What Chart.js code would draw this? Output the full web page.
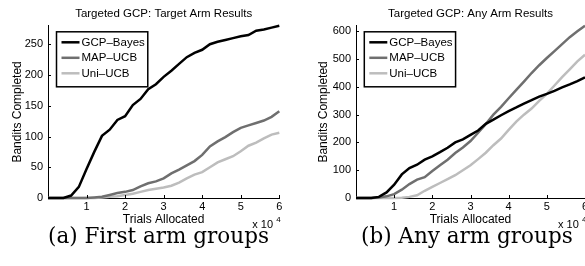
<!DOCTYPE html>
<html>
<head>
<meta charset="utf-8">
<title>Targeted GCP results</title>
<script src="https://cdn.jsdelivr.net/npm/chart.js@4.4.0/dist/chart.umd.min.js"></script>
<style>
    html, body { margin: 0; padding: 0; background: #fff; width: 585px; height: 266px; overflow: hidden; position: relative; }
    canvas { position: absolute; top: 0; }
    #chartA { left: 0; }
    #chartB { left: 290px; }
    .caption {
        position: absolute; top: 225px;
        font-family: "DejaVu Serif", serif; font-size: 21.5px; line-height: 21.5px;
        color: #000; white-space: nowrap;
    }
</style>
</head>
<body>
<canvas id="chartA" width="290" height="232"></canvas>
<canvas id="chartB" width="310" height="232"></canvas>
<div class="caption" style="left:48px">(a) First arm groups</div>
<div class="caption" style="left:361px">(b) Any arm groups</div>

<script>
// Trials allocated (x axis), same grid for both plots
const trials = [0, 2000, 4000, 6000, 8000, 10000, 12000, 14000, 16000, 18000, 20000,
    22000, 24000, 26000, 28000, 30000, 32000, 34000, 36000, 38000, 40000,
    42000, 44000, 46000, 48000, 50000, 52000, 54000, 56000, 58000, 60000];

const seriesNames = ['GCP–Bayes', 'MAP–UCB', 'Uni–UCB'];
const seriesColors = ['#000000', '#6f6f6f', '#bdbdbd'];

// (a) Target arm results
const targetGcp = [0, 0, 0, 4, 18, 47, 75, 101, 111, 127, 133, 151, 161, 177, 185, 197,
    207, 218, 229, 236, 241, 250, 254, 257, 260, 263, 265, 272, 274, 277, 280];
const targetMap = [0, 0, 0, 0, 0, 0, 1, 2, 5, 8, 10, 13, 19, 24, 27, 32,
    40, 46, 53, 60, 70, 84, 92, 99, 107, 114, 118, 122, 126, 132, 141];
const targetUni = [0, 0, 0, 0, 0, 0, 0, 1, 2, 3, 5, 7, 10, 13, 15, 17,
    20, 25, 32, 38, 42, 50, 58, 63, 68, 76, 85, 90, 97, 103, 106];

// (b) Any arm results
const anyGcp = [0, 0, 0, 4, 20, 48, 85, 108, 120, 138, 150, 165, 181, 200, 211, 227,
    243, 267, 282, 298, 313, 326, 340, 352, 365, 375, 386, 398, 409, 421, 434];
const anyMap = [0, 0, 0, 2, 6, 14, 30, 50, 66, 75, 97, 118, 138, 162, 182, 205,
    235, 266, 300, 328, 359, 389, 419, 450, 478, 504, 529, 554, 579, 600, 620];
const anyUni = [0, 0, 0, 0, 0, 0, 1, 4, 10, 26, 40, 54, 68, 82, 100, 118,
    140, 163, 190, 214, 245, 275, 300, 322, 350, 375, 405, 435, 463, 492, 516];

// Tick labels
const xTicks = [10000, 20000, 30000, 40000, 50000, 60000];
const targetYTicks = [0, 50, 100, 150, 200, 250];
const anyYTicks = [0, 100, 200, 300, 400, 500, 600];

const SANS = '"Liberation Sans", Arial, sans-serif';

/**
 * Plugin: inward tick marks, boxed legend and the "x 10^4" exponent
 */
const matlabLook = {
    id: 'matlabLook',
    afterDatasetsDraw(chart, args, opts) {
        const ctx = chart.ctx;
        const area = chart.chartArea;
        const xs = chart.scales.x;
        const ys = chart.scales.y;

        ctx.save();
        // tick marks pointing into the plot
        ctx.strokeStyle = '#000';
        ctx.lineWidth = 1;
        ctx.beginPath();
        xs.ticks.forEach(t => {
            const px = Math.round(xs.getPixelForValue(t.value)) + 0.5;
            ctx.moveTo(px, area.bottom);
            ctx.lineTo(px, area.bottom - 3);
        });
        ys.ticks.forEach(t => {
            const py = Math.round(ys.getPixelForValue(t.value)) + 0.5;
            ctx.moveTo(area.left, py);
            ctx.lineTo(area.left + 3, py);
        });
        ctx.stroke();

        // legend box in the top left corner
        const x0 = area.left + opts.legendX;
        const y0 = area.top + 6;
        ctx.font = '11.5px ' + SANS;
        const textW = Math.max(...chart.data.datasets.map(d => ctx.measureText(d.label).width));
        const boxW = 25 + textW + 3;
        ctx.fillStyle = '#fff';
        ctx.fillRect(x0, y0, boxW, 55);
        ctx.lineWidth = 1.5;
        ctx.strokeRect(x0, y0, boxW, 55);
        ctx.textBaseline = 'middle';
        ctx.textAlign = 'left';
        chart.data.datasets.forEach((d, i) => {
            const ry = y0 + 10.5 + i * 15.5;
            ctx.strokeStyle = d.borderColor;
            ctx.lineWidth = 2.5;
            ctx.beginPath();
            ctx.moveTo(x0 + 5, ry);
            ctx.lineTo(x0 + 23, ry);
            ctx.stroke();
            ctx.fillStyle = '#000';
            ctx.fillText(d.label, x0 + 25, ry + 0.5);
        });

        // exponent label under the x axis
        ctx.fillStyle = '#000';
        ctx.textBaseline = 'middle';
        ctx.font = '11px ' + SANS;
        ctx.fillText('x 10', area.right - 27, area.bottom + 27);
        ctx.font = '8px ' + SANS;
        ctx.fillText('4', area.right - 3, area.bottom + 21.5);
        ctx.restore();
    }
};

/**
 * Builds one of the two panels
 */
function makePanel(canvasId, title, values, yMax, yTicks, yWidth, yTitlePad, padRight, legendX) {
    const ctx = document.getElementById(canvasId).getContext('2d');
    return new Chart(ctx, {
        type: 'line',
        data: {
            datasets: values.map((v, i) => ({
                label: seriesNames[i],
                data: trials.map((t, k) => ({ x: t, y: v[k] })),
                borderColor: seriesColors[i],
                borderWidth: 2.5,
                pointRadius: 0,
                tension: 0,
                fill: false,
                clip: 4
            }))
        },
        options: {
            responsive: false,
            animation: false,
            events: [],
            layout: { padding: { left: 0, right: padRight, top: 0, bottom: 4 } },
            scales: {
                x: {
                    type: 'linear',
                    min: 0,
                    max: 60000,
                    grid: { display: false, drawTicks: false },
                    border: { display: true, color: '#000', width: 1 },
                    afterBuildTicks: s => { s.ticks = xTicks.map(v => ({ value: v })); },
                    afterFit: s => { s.height = 30; s.paddingLeft = 0; s.paddingRight = 0; },
                    ticks: {
                        color: '#000', padding: 2, maxRotation: 0, autoSkip: false,
                        font: { family: SANS, size: 11 },
                        callback: v => String(v / 10000)
                    },
                    title: {
                        display: true, text: 'Trials Allocated', color: '#000',
                        font: { family: SANS, size: 12 }, padding: { top: 0, bottom: 1 }
                    }
                },
                y: {
                    type: 'linear',
                    min: 0,
                    max: yMax,
                    grid: { display: false, drawTicks: false },
                    border: { display: true, color: '#000', width: 1 },
                    afterBuildTicks: s => { s.ticks = yTicks.map(v => ({ value: v })); },
                    afterFit: s => { s.width = yWidth; s.paddingTop = 0; s.paddingBottom = 0; },
                    ticks: {
                        color: '#000', padding: 5, autoSkip: false,
                        font: { family: SANS, size: 11 }
                    },
                    title: {
                        display: true, text: 'Bandits Completed', color: '#000',
                        font: { family: SANS, size: 12 }, padding: { top: yTitlePad, bottom: 0 }
                    }
                }
            },
            plugins: {
                legend: { display: false },
                tooltip: { enabled: false },
                title: {
                    display: true, text: title, color: '#000', fullSize: false,
                    font: { family: SANS, size: 11.5, weight: 'normal' },
                    padding: { top: 7, bottom: 5 }
                },
                matlabLook: { legendX: legendX }
            }
        },
        plugins: [matlabLook]
    });
}

makePanel('chartA', 'Targeted GCP: Target Arm Results',
    [targetGcp, targetMap, targetUni], 280, targetYTicks, 48, 10, 10.7, 8.5);
makePanel('chartB', 'Targeted GCP: Any Arm Results',
    [anyGcp, anyMap, anyUni], 620, anyYTicks, 66, 26, 15, 8.3);
</script>
</body>
</html>
